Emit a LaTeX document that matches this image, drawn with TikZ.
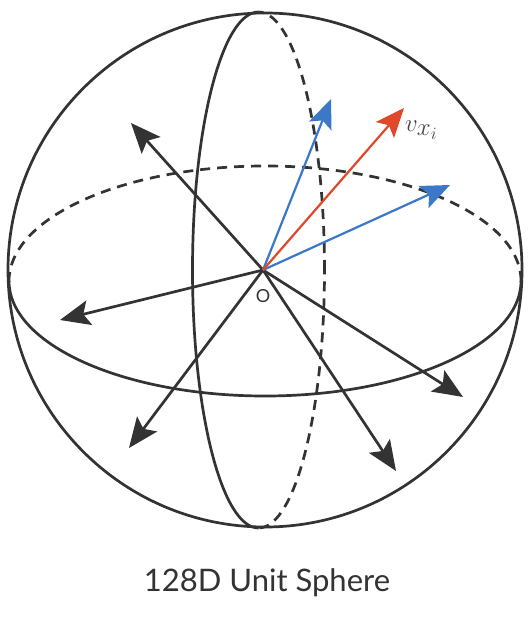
\documentclass[tikz,border=0pt]{standalone}
\usepackage{fontspec}
\setmainfont{Lato}
\usetikzlibrary{arrows.meta}
\definecolor{ink}{HTML}{333333}
\definecolor{vblue}{HTML}{3B78C8}
\definecolor{vred}{HTML}{E0482A}
\tikzset{
  outline/.style={draw=ink, line width=2.7pt},
  hidden/.style={draw=ink, line width=2.7pt, dash pattern=on 10pt off 7pt},
  vec/.style={draw=ink, line width=2.7pt, -{Stealth[length=30pt, width=25pt, inset=6pt]}},
  bvec/.style={draw=vblue, line width=2.2pt, -{Stealth[length=29pt, width=24pt, inset=6pt]}},
  rvec/.style={draw=vred, line width=2.2pt, -{Stealth[length=29pt, width=24pt, inset=6pt]}},
}
\begin{document}
\begin{tikzpicture}[x=1pt, y=-1pt]
\useasboundingbox[fill=white] (0,0) rectangle (530,628);
% sphere outline
\draw[outline] (265,270) circle[radius=257pt];
% vertical great circle: left half solid, right half dashed
\begin{scope}
  \clip (0,0) rectangle (258.5,628);
  \draw[outline] (258.5,270) ellipse[x radius=66pt, y radius=258pt];
\end{scope}
\begin{scope}
  \clip (258.5,0) rectangle (530,628);
  \draw[hidden] (258.5,270) ellipse[x radius=66pt, y radius=258pt];
\end{scope}
% equator: lower half solid, upper half dashed
\begin{scope}
  \clip (0,281) rectangle (530,628);
  \draw[outline] (265,281) ellipse[x radius=256pt, y radius=115pt];
\end{scope}
\begin{scope}
  \clip (0,0) rectangle (530,281);
  \draw[hidden] (265,281) ellipse[x radius=256pt, y radius=115pt];
\end{scope}
% origin and tips
\coordinate (O) at (263,270);
\coordinate (t1) at (131,123);
\coordinate (t2) at (60,320);
\coordinate (t3) at (129,448);
\coordinate (t4) at (396,471);
\coordinate (t5) at (463,397);
\coordinate (b1) at (331,99);
\coordinate (b2) at (450,185);
\coordinate (r1) at (404,108);
\draw[vec] (O) -- (t1);
\draw[vec] (O) -- (t2);
\draw[vec] (O) -- (t3);
\draw[vec] (O) -- (t4);
\draw[vec] (O) -- (t5);
\draw[bvec] (O) -- (b1);
\draw[bvec] (O) -- (b2);
\draw[rvec] (O) -- (r1);
\node[text=ink!90, font=\fontsize{34}{36}\selectfont, anchor=west, inner sep=0pt] (vlabel) at (405,130) {$v_{x_i}$};
\node[text=ink, font=\fontsize{18}{20}\selectfont, inner sep=0pt] (olabel) at (263,296) {O};
\node[text=ink, font=\fontsize{31}{34}\selectfont, inner sep=0pt] (caption) at (267,583) {128D Unit Sphere};
\end{tikzpicture}
\end{document}
